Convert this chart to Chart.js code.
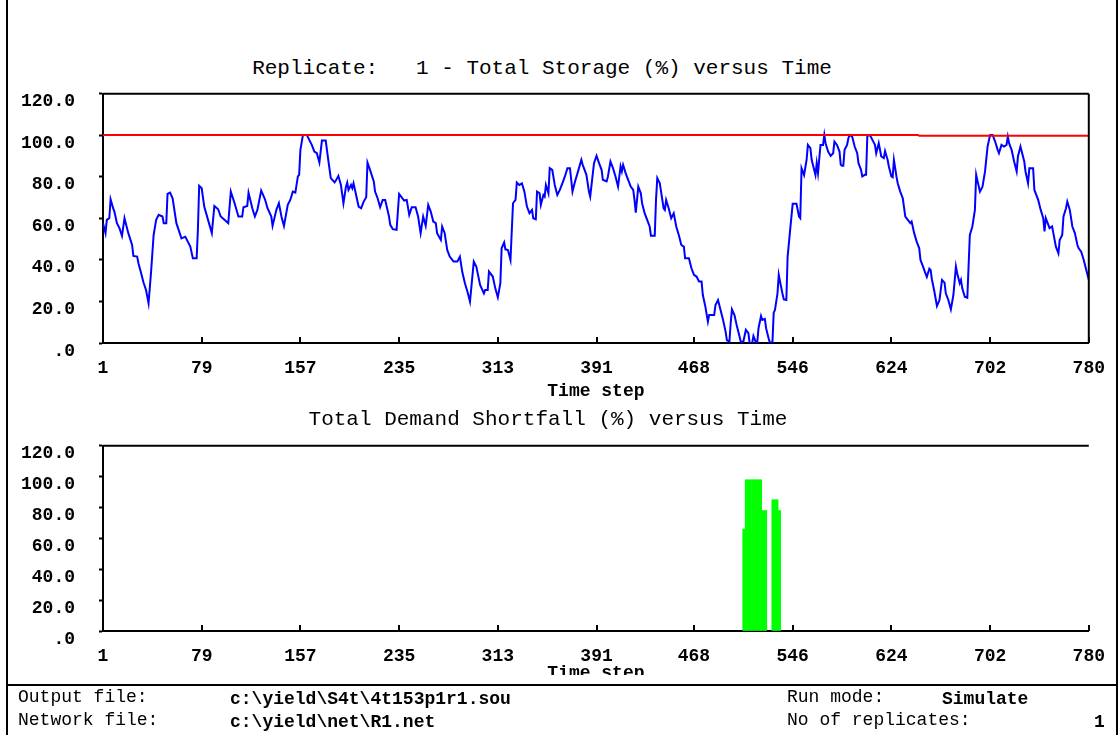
<!DOCTYPE html>
<html>
<head>
<meta charset="utf-8">
<title>Total Storage and Demand Shortfall</title>
<script src="https://cdn.jsdelivr.net/npm/chart.js@4.4.1/dist/chart.umd.min.js"></script>
<style>
  html, body { margin: 0; padding: 0; background: #fff; }
  body { width: 1120px; height: 735px; position: relative; overflow: hidden;
         font-family: 'Courier New', 'Liberation Mono', monospace; color: #000; }
  .abs { position: absolute; }
  #frame { left: 6px; top: 0; width: 1108px; height: 735px;
           border-left: 2px solid #000; border-right: 2px solid #000; }
  .title { font-size: 21px; line-height: 24px; white-space: pre; text-align: center; }
  #t1 { left: 0; width: 1084px; top: 57px; }
  #t2 { left: 0; width: 1096px; top: 408px; }
  #c1 { left: 0; top: 59px; }
  #c2 { left: 0; top: 411px; }
  #mask { left: 8px; top: 675px; width: 1108px; height: 9px; background: #fff; }
  #sep { left: 7px; top: 684px; width: 1111px; height: 2px; background: #000; }
  .ft { font-size: 18px; line-height: 22px; white-space: pre; }
  .b { font-weight: bold; }
</style>
</head>
<body>
<div id="frame" class="abs"></div>
<div id="t1" class="abs title">Replicate:   1 - Total Storage (%) versus Time</div>
<canvas id="c1" class="abs" width="1120" height="351"></canvas>
<div id="t2" class="abs title">Total Demand Shortfall (%) versus Time</div>
<canvas id="c2" class="abs" width="1120" height="279"></canvas>
<div id="mask" class="abs"></div>
<div id="sep" class="abs"></div>
<div class="abs ft" style="left:18px;top:686px">Output file:</div>
<div class="abs ft b" style="left:230px;top:688px">c:\yield\S4t\4t153p1r1.sou</div>
<div class="abs ft" style="left:18px;top:709px">Network file:</div>
<div class="abs ft b" style="left:230px;top:711px">c:\yield\net\R1.net</div>
<div class="abs ft" style="left:787px;top:686px">Run mode:</div>
<div class="abs ft b" style="left:942px;top:688px">Simulate</div>
<div class="abs ft" style="left:787px;top:709px">No of replicates:</div>
<div class="abs ft b" style="left:1094px;top:711px">1</div>

<script>
// axis ticks
const xTickValues = [1, 79, 157, 235, 313, 391, 468, 546, 624, 702, 780];
const yTickValues = [0, 20, 40, 60, 80, 100, 120];
const yTickLabels = ['.0', '20.0', '40.0', '60.0', '80.0', '100.0', '120.0'];

// total storage (%) - at these time steps
const storageSteps = [
  1, 3, 4, 6, 7, 9, 10, 12, 14, 16,
  18, 21, 24, 25, 28, 29, 31, 33, 35, 37,
  39, 41, 43, 45, 48, 49, 51, 52, 54, 56,
  59, 63, 66, 67, 70, 72, 75, 76, 77, 79,
  81, 84, 87, 89, 92, 94, 97, 100, 102, 105,
  108, 111, 112, 115, 116, 119, 121, 123, 126, 129,
  131, 134, 135, 138, 140, 142, 144, 147, 149, 151,
  153, 155, 156, 157, 159, 162, 164, 166, 168, 170,
  172, 174, 177, 179, 181, 184, 185, 187, 189, 191,
  193, 194, 195, 197, 198, 199, 201, 203, 205, 207,
  209, 210, 212, 215, 216, 218, 220, 222, 224, 227,
  228, 230, 233, 235, 239, 241, 243, 245, 248, 250,
  252, 254, 256, 258, 260, 262, 264, 265, 268, 269,
  271, 273, 275, 278, 281, 283, 285, 287, 289, 291,
  294, 296, 299, 302, 303, 305, 306, 309, 311, 313,
  315, 316, 318, 319, 321, 323, 324, 325, 327, 328,
  330, 332, 334, 336, 338, 340, 341, 343, 344, 346,
  347, 349, 350, 351, 353, 354, 356, 358, 360, 362,
  364, 366, 368, 370, 372, 374, 376, 379, 380, 383,
  385, 386, 389, 391, 393, 395, 396, 399, 400, 402,
  404, 406, 408, 410, 411, 412, 414, 416, 418, 420,
  421, 422, 424, 426, 427, 429, 431, 433, 434, 437,
  438, 439, 441, 442, 444, 445, 446, 448, 450, 452,
  454, 456, 458, 460, 461, 464, 466, 468, 470, 472,
  474, 475, 477, 479, 480, 484, 485, 487, 489, 491,
  493, 494, 496, 497, 498, 500, 502, 504, 505, 507,
  509, 511, 512, 514, 515, 517, 518, 519, 521, 522,
  524, 525, 527, 528, 530, 531, 532, 534, 535, 536,
  538, 539, 541, 542, 544, 546, 549, 551, 552, 553,
  555, 557, 558, 560, 561, 564, 565, 566, 568, 570,
  571, 572, 574, 576, 578, 579, 581, 583, 584, 585,
  586, 587, 589, 590, 591, 593, 595, 597, 598, 600,
  601, 603, 604, 605, 607, 609, 611, 612, 614, 616,
  618, 619, 621, 622, 624, 625, 626, 628, 629, 631,
  633, 635, 637, 639, 640, 642, 644, 646, 647, 649,
  651, 652, 654, 655, 656, 658, 660, 662, 664, 666,
  667, 669, 671, 673, 675, 676, 678, 679, 680, 682,
  684, 686, 688, 690, 691, 692, 694, 696, 698, 700,
  702, 704, 706, 708, 709, 711, 713, 715, 716, 717,
  719, 721, 723, 724, 726, 728, 729, 730, 732, 733,
  736, 737, 740, 742, 744, 745, 746, 749, 751, 752,
  754, 756, 757, 759, 760, 762, 763, 765, 767, 769,
  771, 772, 774, 776, 778, 780
];
const storagePct = [
  57.7, 52.9, 59.3, 60.1, 69.2, 64.9, 63.3, 57.7, 55.3, 51.6,
  60.1, 52.9, 47.2, 41.9, 41.6, 38.4, 33.9, 29.1, 25.5, 19.1,
  34.4, 52.0, 59.3, 61.7, 60.9, 57.7, 57.7, 71.8, 72.4, 69.7,
  57.7, 50.4, 51.2, 50.0, 46.4, 40.8, 40.8, 54.8, 75.7, 74.5,
  65.7, 59.3, 52.9, 66.0, 64.4, 60.9, 59.3, 57.7, 72.9, 67.3,
  60.9, 60.9, 65.4, 66.0, 72.4, 64.9, 60.9, 64.1, 73.4, 69.2,
  64.9, 60.9, 56.4, 64.1, 67.3, 60.9, 56.4, 66.5, 68.9, 72.9,
  72.4, 80.2, 81.0, 93.0, 100.2, 100.2, 97.8, 95.4, 92.2, 91.4,
  86.9, 97.5, 97.5, 88.2, 79.4, 77.3, 78.2, 80.5, 76.1, 67.3,
  75.3, 77.3, 73.7, 76.1, 74.5, 76.9, 71.3, 65.7, 64.9, 68.1,
  70.2, 86.9, 83.4, 77.8, 72.9, 69.7, 65.4, 68.9, 68.9, 60.9,
  56.9, 54.8, 54.5, 71.8, 68.6, 68.9, 61.7, 65.4, 65.4, 60.9,
  52.9, 60.9, 56.4, 66.5, 63.3, 58.5, 57.7, 52.9, 49.6, 56.1,
  52.9, 44.8, 41.6, 39.2, 39.2, 41.6, 33.9, 28.8, 24.7, 19.9,
  39.2, 36.8, 28.0, 23.9, 25.5, 25.5, 34.4, 32.0, 26.3, 22.0,
  28.8, 45.6, 48.4, 45.1, 44.8, 40.0, 53.7, 67.3, 68.9, 77.3,
  76.1, 76.9, 72.9, 65.7, 62.5, 64.1, 60.1, 59.6, 72.9, 72.1,
  66.5, 71.3, 70.5, 76.1, 72.1, 84.2, 83.4, 76.1, 71.3, 73.7,
  76.9, 80.2, 84.2, 84.2, 72.9, 77.8, 81.8, 88.2, 85.9, 81.0,
  72.9, 70.5, 86.6, 90.1, 86.6, 83.4, 78.6, 77.8, 80.2, 87.4,
  84.2, 80.2, 75.3, 85.0, 82.6, 85.8, 81.8, 78.6, 75.3, 73.7,
  68.9, 62.8, 75.3, 72.1, 67.3, 62.5, 59.3, 56.1, 51.7, 51.7,
  68.9, 79.4, 76.9, 72.9, 64.9, 64.1, 68.9, 64.9, 60.1, 62.5,
  56.1, 52.0, 47.2, 46.4, 40.8, 40.8, 36.0, 32.8, 32.0, 29.6,
  29.6, 23.1, 17.5, 10.3, 13.5, 13.5, 18.3, 20.7, 15.9, 11.1,
  5.5, 1.4, 0.6, 9.5, 16.2, 13.5, 7.9, 3.1, 0.6, 0.6,
  6.3, 4.7, 0, 0, 3.4, 0.2, 0.2, 7.1, 13.0, 11.1,
  11.6, 7.1, 2.2, 0.2, 0.2, 14.6, 15.9, 23.9, 32.8, 29.6,
  23.6, 21.0, 20.7, 41.6, 54.5, 67.0, 67.0, 60.9, 60.1, 84.2,
  80.9, 88.2, 95.4, 93.8, 88.2, 80.9, 86.6, 81.8, 95.4, 95.4,
  100.2, 96.2, 92.2, 90.1, 91.4, 97.0, 95.4, 92.2, 85.8, 85.3,
  85.3, 93.0, 95.4, 98.6, 100.2, 99.4, 94.6, 91.4, 86.6, 83.4,
  80.2, 81.0, 81.0, 99.8, 100.2, 97.8, 95.4, 91.4, 96.2, 89.8,
  89.0, 92.4, 88.2, 85.0, 80.2, 79.8, 88.2, 80.2, 76.9, 72.9,
  69.7, 60.9, 59.3, 57.7, 58.5, 52.9, 48.8, 45.6, 40.0, 36.8,
  33.4, 31.8, 35.8, 35.2, 30.7, 24.7, 17.8, 20.7, 30.4, 29.1,
  23.9, 20.7, 16.2, 23.1, 36.8, 33.6, 28.8, 30.4, 26.3, 22.3,
  21.8, 52.0, 56.1, 64.1, 81.0, 78.2, 72.9, 75.3, 82.6, 94.6,
  100.2, 100.2, 97.0, 93.0, 91.4, 95.4, 94.6, 95.4, 99.4, 96.2,
  93.0, 87.4, 82.6, 89.8, 94.6, 89.8, 87.4, 82.6, 76.9, 84.2,
  84.2, 73.7, 68.9, 64.1, 60.1, 53.7, 60.1, 55.3, 56.1, 52.9,
  46.4, 43.2, 49.6, 52.0, 60.9, 64.9, 68.1, 64.1, 56.1, 52.9,
  47.2, 45.6, 44.0, 40.0, 35.2, 30.4
];

// storage capacity line (red)
const capacitySteps = [1, 645, 646, 780];
const capacityPct = [100.2, 100.2, 99.8, 99.8];

// total demand shortfall (%)
const shortfallSteps = [
  507, 508, 509, 510, 511, 512, 513, 514, 515, 516,
  517, 518, 519, 520, 521, 522, 523, 524, 525,
  530, 531, 532, 533, 534, 535, 536
];
const shortfallPct = [
  66, 66, 98, 98, 98, 98, 98, 98, 98, 98,
  98, 98, 98, 98, 98, 78, 78, 78, 78,
  85, 85, 85, 85, 85, 78, 78
];

const FONT = "'Courier New', 'Liberation Mono', monospace";
const pts = (xs, ys) => xs.map((x, i) => ({ x: x, y: ys[i] }));

// top/right frame lines and inward x tick marks
const frameLines = {
  id: 'frameLines',
  afterDraw(chart, args, opts) {
    const { ctx, chartArea: a } = chart;
    const sx = chart.scales.x;
    ctx.save();
    ctx.strokeStyle = '#000';
    ctx.lineWidth = 2;
    ctx.beginPath();
    ctx.moveTo(a.left, a.top);
    ctx.lineTo(a.right, a.top);
    if (opts.right) {
      ctx.moveTo(a.right, a.top);
      ctx.lineTo(a.right, a.bottom);
    }
    xTickValues.forEach(v => {
      const px = Math.round(sx.getPixelForValue(v));
      ctx.moveTo(px, a.bottom);
      ctx.lineTo(px, a.bottom - 6);
    });
    ctx.stroke();
    ctx.restore();
  }
};

function makeScales(xAxisHeight, titlePad) {
  return {
    x: {
      type: 'linear', min: 1, max: 780, offset: false,
      afterBuildTicks: s => { s.ticks = xTickValues.map(v => ({ value: v })); },
      afterFit: s => { s.height = xAxisHeight; },
      grid: { drawOnChartArea: false, drawTicks: false },
      border: { display: true, color: '#000', width: 2 },
      ticks: {
        autoSkip: false, maxRotation: 0, padding: 15, color: '#000',
        font: { family: FONT, size: 18, weight: 'bold' },
        callback: v => String(v)
      },
      title: {
        display: true, text: 'Time step', color: '#000',
        font: { family: FONT, size: 18, weight: 'bold' },
        padding: { top: 0, bottom: titlePad }
      }
    },
    y: {
      min: 0, max: 120,
      afterBuildTicks: s => { s.ticks = yTickValues.map(v => ({ value: v })); },
      afterFit: s => { s.width = 103; },
      grid: { drawOnChartArea: false, drawTicks: true, tickLength: 4, tickWidth: 2, color: '#000' },
      border: { display: true, color: '#000', width: 2 },
      ticks: {
        padding: 24, labelOffset: 8, color: '#000',
        font: { family: FONT, size: 18, weight: 'bold' },
        callback: v => yTickLabels[yTickValues.indexOf(v)]
      }
    }
  };
}

new Chart(document.getElementById('c1'), {
  type: 'line',
  data: {
    datasets: [
      {
        data: pts(capacitySteps, capacityPct),
        borderColor: '#ff0000', borderWidth: 2, pointRadius: 0, tension: 0
      },
      {
        data: pts(storageSteps, storagePct),
        borderColor: '#0000ff', borderWidth: 2, pointRadius: 0, tension: 0
      }
    ]
  },
  options: {
    responsive: false, animation: false,
    layout: { autoPadding: false, padding: { top: 0, right: 27, left: 0, bottom: 0 } },
    plugins: { legend: { display: false }, tooltip: { enabled: false }, frameLines: { right: true } },
    scales: makeScales(67, 8)
  },
  plugins: [frameLines]
});

new Chart(document.getElementById('c2'), {
  type: 'bar',
  data: {
    datasets: [{
      data: pts(shortfallSteps, shortfallPct),
      backgroundColor: '#00ff00', borderWidth: 0,
      barPercentage: 1, categoryPercentage: 1, grouped: false
    }]
  },
  options: {
    responsive: false, animation: false,
    layout: { autoPadding: false, padding: { top: 0, right: 27, left: 0, bottom: 0 } },
    plugins: { legend: { display: false }, tooltip: { enabled: false }, frameLines: { right: false } },
    scales: makeScales(59, 6)
  },
  plugins: [frameLines]
});
</script>
</body>
</html>
